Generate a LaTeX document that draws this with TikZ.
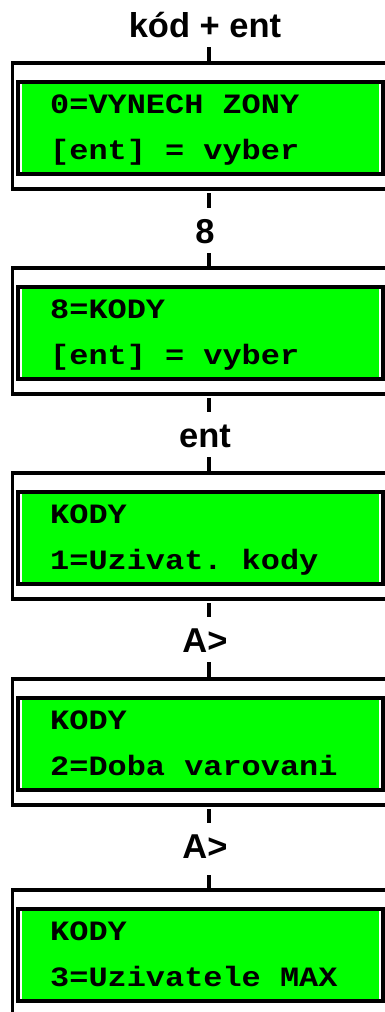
\documentclass[tikz,border=0pt]{standalone}
\usepackage{fontspec}
\newfontfamily\lcdfont[FakeStretch=1.14]{Liberation Mono}
\newfontfamily\labfont{Liberation Sans}
\definecolor{lcdgreen}{RGB}{0,255,0}
\begin{document}
\begin{tikzpicture}[x=1pt,y=-1pt,
  outerbox/.style={draw=black, line width=3.5pt, rectangle, anchor=north west, outer sep=0pt, inner sep=0pt, minimum width=400pt, minimum height=126pt},
  innerbox/.style={draw=black, line width=4pt, rectangle, anchor=north west, outer sep=0pt, inner sep=0pt, minimum width=365.5pt, minimum height=91.5pt},
  lcdfill/.style={fill=lcdgreen},
  lcdtext/.style={anchor=base west, inner sep=0pt, font=\lcdfont\bfseries\fontsize{28}{28}\selectfont},
  keylabel/.style={anchor=base, inner xsep=0pt, inner ysep=10pt, text height=25pt, text depth=0pt, font=\labfont\bfseries\fontsize{34.5}{34.5}\selectfont},
  tick/.style={line width=4pt}
]
\useasboundingbox (0,0) rectangle (385,1012);
\clip (0,0) rectangle (385,1012);
\coordinate (tx) at (208.5,0);

% boxes
\node[outerbox] (b1) at (12.5,63) {};
\node[outerbox] (b2) at (12.5,268) {};
\node[outerbox] (b3) at (12.5,473) {};
\node[outerbox] (b4) at (12.5,679) {};
\node[outerbox] (b5) at (12.5,890) {};

\node[innerbox] (i1) at (17.5,82) {};
\node[innerbox] (i2) at (17.5,287) {};
\node[innerbox] (i3) at (17.5,492) {};
\node[innerbox] (i4) at (17.5,698) {};
\node[innerbox] (i5) at (17.5,909) {};

\foreach \n in {i1,i2,i3,i4,i5}{
  \fill[lcdfill] ([xshift=4.5pt,yshift=-2pt]\n.north west) rectangle ([xshift=-4pt,yshift=2pt]\n.south east);
}

% display texts
\node[lcdtext] (t1a) at (50,113) {0=VYNECH ZONY};
\node[lcdtext] (t1b) at (50,159) {[ent] = vyber};
\node[lcdtext] (t2a) at (50,318) {8=KODY};
\node[lcdtext] (t2b) at (50,364) {[ent] = vyber};
\node[lcdtext] (t3a) at (50,523) {KODY};
\node[lcdtext] (t3b) at (50,569) {1=Uzivat.\ kody};
\node[lcdtext] (t4a) at (50,729) {KODY};
\node[lcdtext] (t4b) at (50,775) {2=Doba varovani};
\node[lcdtext] (t5a) at (50,940) {KODY};
\node[lcdtext] (t5b) at (50,986) {3=Uzivatele MAX};

% key labels
\node[keylabel] (l0) at (205,37) {kód + ent};
\node[keylabel] (l1) at (205,243) {8};
\node[keylabel] (l2) at (205,447) {ent};
\node[keylabel] (l3) at (205,652) {A>};
\node[keylabel] (l4) at (205,858) {A>};

% connectors
\draw[tick] (l0.south -| tx) -- (b1.north -| tx);
\draw[tick, shorten <=4pt] (b1.south -| tx) -- (l1.north -| tx);
\draw[tick] (l1.south -| tx) -- (b2.north -| tx);
\draw[tick, shorten <=4pt] (b2.south -| tx) -- (l2.north -| tx);
\draw[tick] (l2.south -| tx) -- (b3.north -| tx);
\draw[tick, shorten <=4pt] (b3.south -| tx) -- (l3.north -| tx);
\draw[tick] (l3.south -| tx) -- (b4.north -| tx);
\draw[tick, shorten <=4pt] (b4.south -| tx) -- (l4.north -| tx);
\draw[tick, shorten <=7pt] (l4.south -| tx) -- (b5.north -| tx);
\end{tikzpicture}
\end{document}
